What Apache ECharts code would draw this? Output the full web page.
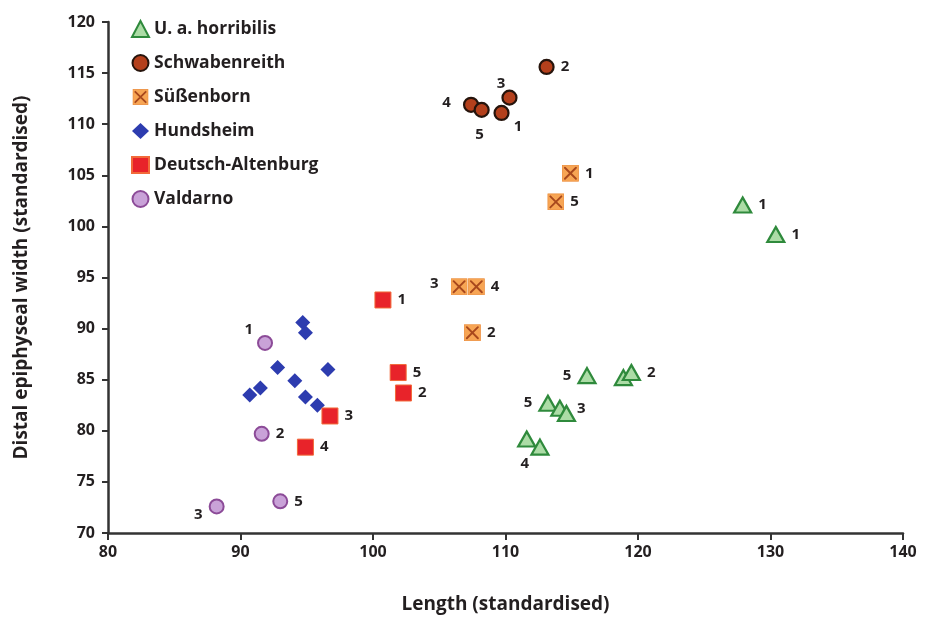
<!DOCTYPE html>
<html>
<head>
<meta charset="utf-8">
<title>Distal epiphyseal width vs length</title>
<script src="https://cdn.jsdelivr.net/npm/echarts@6/dist/echarts.min.js"></script>
<style>
  html, body { margin: 0; padding: 0; background: #ffffff; }
  #chart { width: 930px; height: 623px; }
</style>
</head>
<body>
<div id="chart"></div>
<script>
// Standardised length (x) and distal epiphyseal width (y) per specimen group,
// with the specimen number shown beside each mark ('' = no number).
const horribilisLength = [127.9, 130.4, 116.15, 118.9, 119.5, 113.2, 114.1, 114.6, 111.6, 112.6];
const horribilisWidth  = [102.1, 99.2, 85.4, 85.2, 85.7, 82.7, 82.2, 81.7, 79.2, 78.4];
const horribilisNo     = ['1', '1', '5', '', '2', '5', '', '3', '4', ''];

const schwabenreithLength = [109.7, 113.1, 110.3, 107.4, 108.2];
const schwabenreithWidth  = [111.1, 115.6, 112.6, 111.9, 111.4];
const schwabenreithNo     = ['1', '2', '3', '4', '5'];

const suessenbornLength = [114.9, 107.5, 106.5, 107.8, 113.8];
const suessenbornWidth  = [105.2, 89.6, 94.1, 94.1, 102.4];
const suessenbornNo     = ['1', '2', '3', '4', '5'];

const hundsheimLength = [94.7, 94.9, 92.8, 96.6, 94.1, 91.5, 90.7, 94.9, 95.8];
const hundsheimWidth  = [90.6, 89.6, 86.2, 86.0, 84.9, 84.2, 83.5, 83.3, 82.5];

const deutschAltenburgLength = [100.75, 102.3, 96.75, 94.9, 101.9];
const deutschAltenburgWidth  = [92.8, 83.7, 81.45, 78.4, 85.7];
const deutschAltenburgNo     = ['1', '2', '3', '4', '5'];

const valdarnoLength = [91.85, 91.6, 88.2, 93.0];
const valdarnoWidth  = [88.6, 79.7, 72.6, 73.1];
const valdarnoNo     = ['1', '2', '3', '5'];

const xTicks = [80, 90, 100, 110, 120, 130, 140];
const yTicks = [70, 75, 80, 85, 90, 95, 100, 105, 110, 115, 120];

const FONT = '"Open Sans", "DejaVu Sans", sans-serif';
const INK = '#231f20';

// Where each specimen number sits relative to its mark (by series, by index).
const numberPlacement = {
  horribilis:    ['right', 'right', 'left', 'right', 'right', 'left', 'right', 'upRight', 'bottom', 'right'],
  schwabenreith: ['bottomRight', 'right', 'topLeftHigh', 'farLeft', 'bottom'],
  suessenborn:   ['right', 'right', 'upLeft', 'right', 'right'],
  deutsch:       ['right', 'right', 'right', 'right', 'right'],
  valdarno:      ['topLeft', 'right', 'bottomLeft', 'right']
};

function placement(key) {
  switch (key) {
    case 'bottomRight': return { position: 'right', offset: [-2, 14] };
    case 'topLeft':     return { position: 'left', offset: [2, -13] };
    case 'topLeftHigh': return { position: 'left', offset: [10, -14] };
    case 'upLeft':      return { position: 'left', offset: [-6, -3] };
    case 'upRight':     return { position: 'right', offset: [-5, -5] };
    case 'farLeft':     return { position: 'left', offset: [-6, -2] };
    case 'bottomLeft':  return { position: 'left', offset: [0, 8] };
    case 'bottom':      return { position: 'bottom', offset: [-2, 3] };
    default:            return { position: key };
  }
}

function points(xs, ys, nums, placeKeys) {
  return xs.map(function (x, i) {
    const item = { value: [x, ys[i]] };
    const txt = nums ? nums[i] : '';
    if (txt) {
      const p = placement(placeKeys[i]);
      item.label = Object.assign({ show: true, formatter: txt }, p);
    } else {
      item.label = { show: false };
    }
    return item;
  });
}

const crossSquare = 'image://data:image/svg+xml;charset=utf-8,' + encodeURIComponent(
  "<svg xmlns='http://www.w3.org/2000/svg' width='40' height='40' viewBox='0 0 40 40'>" +
  "<rect x='1' y='1' width='38' height='38' fill='#f7a554' stroke='#ec8d3c' stroke-width='2'/>" +
  "<path d='M7 7 L33 33 M33 7 L7 33' stroke='#a8481d' stroke-width='4.5' stroke-linecap='round'/>" +
  "</svg>");

const numberLabel = {
  show: true,
  color: INK,
  fontFamily: FONT,
  fontWeight: 'bold',
  fontSize: 15,
  distance: 6
};

const chart = echarts.init(document.getElementById('chart'), null, { renderer: 'canvas' });

chart.setOption({
  animation: false,
  backgroundColor: '#ffffff',
  grid: { left: 108, right: 27, top: 22, bottom: 90, containLabel: false },
  legend: {
    orient: 'vertical',
    left: 131,
    top: 20,
    padding: 0,
    itemWidth: 17,
    itemHeight: 16,
    itemGap: 16,
    textStyle: { color: INK, fontFamily: FONT, fontWeight: 'bold', fontSize: 17.5, lineHeight: 18 },
    data: ['U. a. horribilis', 'Schwabenreith', 'Süßenborn', 'Hundsheim', 'Deutsch-Altenburg', 'Valdarno']
  },
  xAxis: {
    type: 'value',
    min: xTicks[0],
    max: xTicks[xTicks.length - 1],
    interval: 10,
    name: 'Length (standardised)',
    nameLocation: 'middle',
    nameGap: 62,
    nameTextStyle: { color: INK, fontFamily: FONT, fontWeight: 'bold', fontSize: 19 },
    axisLine: { lineStyle: { color: '#333333', width: 2.5 } },
    axisTick: { show: true, length: 7, lineStyle: { color: '#333333', width: 2 } },
    axisLabel: { color: INK, fontFamily: FONT, fontWeight: 'bold', fontSize: 16, margin: 11 },
    splitLine: { show: false }
  },
  yAxis: {
    type: 'value',
    min: yTicks[0],
    max: yTicks[yTicks.length - 1],
    interval: 5,
    name: 'Distal epiphyseal width (standardised)',
    nameLocation: 'middle',
    nameGap: 77,
    nameTextStyle: { color: INK, fontFamily: FONT, fontWeight: 'bold', fontSize: 19 },
    axisLine: { show: true, lineStyle: { color: '#333333', width: 2.5 } },
    axisTick: { show: true, length: 6, lineStyle: { color: '#333333', width: 2 } },
    axisLabel: { color: INK, fontFamily: FONT, fontWeight: 'bold', fontSize: 16, margin: 13 },
    splitLine: { show: false }
  },
  series: [
    {
      name: 'U. a. horribilis',
      type: 'scatter',
      symbol: 'triangle',
      symbolSize: [17, 15],
      itemStyle: { color: '#acdca6', borderColor: '#2f8a3c', borderWidth: 2.2, opacity: 1 },
      label: numberLabel,
      data: points(horribilisLength, horribilisWidth, horribilisNo, numberPlacement.horribilis)
    },
    {
      name: 'Schwabenreith',
      type: 'scatter',
      symbol: 'circle',
      symbolSize: 14,
      itemStyle: { color: '#b4401c', borderColor: '#26140c', borderWidth: 2.2, opacity: 1 },
      label: numberLabel,
      data: points(schwabenreithLength, schwabenreithWidth, schwabenreithNo, numberPlacement.schwabenreith)
    },
    {
      name: 'Süßenborn',
      type: 'scatter',
      symbol: crossSquare,
      symbolSize: 17,
      itemStyle: { opacity: 1 },
      label: numberLabel,
      data: points(suessenbornLength, suessenbornWidth, suessenbornNo, numberPlacement.suessenborn)
    },
    {
      name: 'Hundsheim',
      type: 'scatter',
      symbol: 'diamond',
      symbolSize: 15,
      itemStyle: { color: '#2d3caf', opacity: 1 },
      data: points(hundsheimLength, hundsheimWidth, null, [])
    },
    {
      name: 'Deutsch-Altenburg',
      type: 'scatter',
      symbol: 'rect',
      symbolSize: 16,
      itemStyle: { color: '#e8232a', borderColor: '#f26a3a', borderWidth: 1, opacity: 1 },
      label: numberLabel,
      data: points(deutschAltenburgLength, deutschAltenburgWidth, deutschAltenburgNo, numberPlacement.deutsch)
    },
    {
      name: 'Valdarno',
      type: 'scatter',
      symbol: 'circle',
      symbolSize: 14,
      itemStyle: { color: '#c9a2d8', borderColor: '#8c4b98', borderWidth: 2, opacity: 1 },
      label: numberLabel,
      data: points(valdarnoLength, valdarnoWidth, valdarnoNo, numberPlacement.valdarno)
    }
  ]
});
</script>
</body>
</html>
